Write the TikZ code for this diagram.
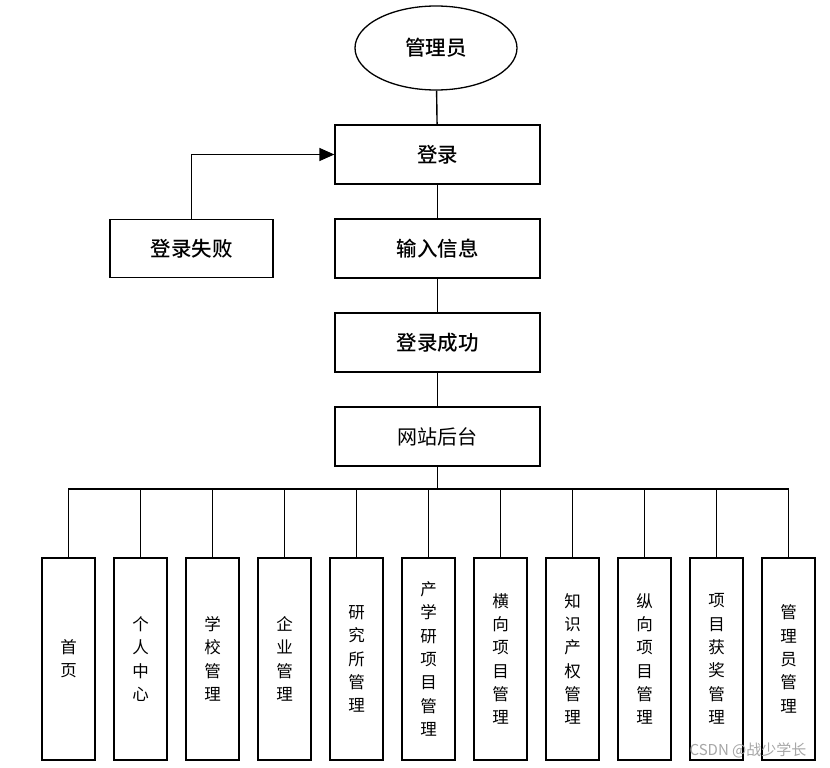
\documentclass[tikz,border=0pt]{standalone}
\usepackage{fontspec}
\setmainfont{Noto Sans CJK SC}[BoldFont = {Noto Sans CJK SC Medium}]
\usetikzlibrary{positioning,arrows.meta,shapes.geometric}

\tikzset{
  stepbox/.style = {draw, line width = 1.3pt, shape = rectangle, minimum width = 205pt, minimum height = 59pt, inner sep = 0pt, font = \fontsize{20.5}{24}\selectfont\bfseries},
  modbox/.style = {draw, line width = 1.3pt, shape = rectangle, minimum width = 53pt, minimum height = 202pt, inner sep = 0pt, align = center, font = \fontsize{16.5}{23.3}\selectfont},
  link/.style = {line width = 1.4pt}
}

\begin{document}
\begin{tikzpicture}[x = 1pt, y = -1pt, node distance = 33.7pt]
\useasboundingbox (0,0) rectangle (830,768);

\node[draw, line width = 1.3pt, shape = ellipse, minimum width = 162pt, minimum height = 84pt, inner sep = 0pt, font = \fontsize{20.5}{24}\selectfont\bfseries] (admin) at (436,48) {管理员};
\node[stepbox] (login) at (437.5,154.5) {登录};
\node[stepbox, below = of login] (input) {输入信息};
\node[stepbox, minimum width = 163pt, minimum height = 58pt, left = 60.7pt of input] (fail) {登录失败};
\node[stepbox, below = of input] (success) {登录成功};
\node[stepbox, below = of success, font = \fontsize{20}{24}\selectfont] (site) {网站后台};

% modules
\foreach \i/\txt in {1/{首\\页}, 2/{个\\人\\中\\心}, 3/{学\\校\\管\\理}, 4/{企\\业\\管\\理},
  5/{研\\究\\所\\管\\理}, 6/{产\\学\\研\\项\\目\\管\\理}, 7/{横\\向\\项\\目\\管\\理},
  8/{知\\识\\产\\权\\管\\理}, 9/{纵\\向\\项\\目\\管\\理}, 10/{项\\目\\获\\奖\\管\\理},
  11/{管\\理\\员\\管\\理}}
  \node[modbox] (m\i) at ({68.5 + 72*(\i-1)}, 659) {\txt};

% connectors
\draw[link] (admin) -- (login);
\draw[link] (login) -- (input);
\draw[link] (input) -- (success);
\draw[link] (success) -- (site);
\draw[link, -{Triangle[length = 15pt, width = 13pt]}] (fail.north) |- (login.west);
\coordinate (bus) at (437.5,489);
\draw[link] (site.south) -- (bus);
\draw[link] (m1.north) |- (bus) -| (m11.north);
\foreach \i in {2,...,10}
  \draw[link] (m\i.north) -- (m\i.north |- bus);

\node[text = gray!70, font = \fontsize{15}{17}\selectfont] (mark) at (748,750) {CSDN @战少学长};
\end{tikzpicture}
\end{document}
